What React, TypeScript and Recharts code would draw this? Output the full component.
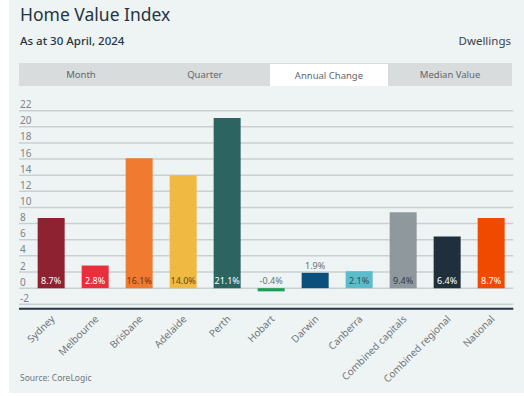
import React from "react";
import { BarChart, Bar, XAxis, YAxis, ReferenceLine, Cell, LabelList } from "recharts";

const categories = ["Sydney", "Melbourne", "Brisbane", "Adelaide", "Perth", "Hobart", "Darwin", "Canberra", "Combined capitals", "Combined regional", "National"];
const annualChange = [8.7, 2.8, 16.1, 14.0, 21.1, -0.4, 1.9, 2.1, 9.4, 6.4, 8.7];
const barColors = ["#8f2230", "#e8303d", "#ef7a30", "#f0b942", "#2b6460", "#1e9e57", "#0c4f7a", "#5bbccc", "#8f989d", "#1f2f3b", "#f04a00"];
const labelColors = ["#ffffff", "#ffffff", "#6b3515", "#5e4a1a", "#ffffff", "#6a7075", "#6a7075", "#2f4f58", "#2e3a40", "#ffffff", "#ffffff"];
const yTicks = [-2, 0, 2, 4, 6, 8, 10, 12, 14, 16, 18, 20, 22];
const tabs = ["Month", "Quarter", "Annual Change", "Median Value"];
const activeTab = "Annual Change";

const data = categories.map((name, i) => ({ name, value: annualChange[i] }));

const FONT = "'Noto Sans', sans-serif";
const MARGIN = { top: 110.7, left: 9, right: 10.7, bottom: 7.3 };
const DOMAIN: [number, number] = [-2.55, 22];

const YTick = (props: any) => {
  const { y, payload } = props;
  return (
    <text x={20} y={y - 2.5} fontSize={10} fill="#7d8388" fontFamily={FONT} textAnchor="start">
      {payload.value}
    </text>
  );
};

const XTick = (props: any) => {
  const { x, y, payload } = props;
  const tx = x + 4;
  const ty = y + 9;
  return (
    <text x={tx} y={ty} fontSize={10} fill="#6f767b" fontFamily={FONT} textAnchor="end" transform={`rotate(-45 ${tx} ${ty})`}>
      {payload.value}
    </text>
  );
};

const BarLabel = (props: any) => {
  const { x, y, width, height, value, index } = props;
  const top = Math.min(y, y + height);
  const bottom = Math.max(y, y + height);
  const h = bottom - top;
  const cx = x + width / 2;
  let ty: number;
  if (value < 0) {
    ty = top - 4;
  } else if (h >= 16) {
    ty = bottom - 4;
  } else {
    ty = top - 4;
  }
  return (
    <text x={cx} y={ty} fontSize={9} fill={labelColors[index]} fontFamily={FONT} textAnchor="middle">
      {`${value.toFixed(1)}%`}
    </text>
  );
};

export default function App() {
  return (
    <div style={{ position: "absolute", left: 0, top: 0, width: 524, height: 396, background: "#ffffff", fontFamily: FONT, overflow: "hidden" }}>
      <div style={{ position: "absolute", left: 9, top: 0, width: 515, height: 393, background: "#eef3f4" }} />
      <div style={{ position: "absolute", left: 20, top: 2, fontSize: 17.5, color: "#253541", lineHeight: "24px" }}>Home Value Index</div>
      <div style={{ position: "absolute", left: 20, top: 33, fontSize: 11.5, fontWeight: 500, color: "#253541", lineHeight: "16px" }}>As at 30 April, 2024</div>
      <div style={{ position: "absolute", right: 13, top: 33, fontSize: 11.5, color: "#3a4348", lineHeight: "16px" }}>Dwellings</div>
      <div style={{ position: "absolute", left: 19, top: 63, width: 493, height: 23, background: "#d9dcdd", display: "flex" }}>
        {tabs.map((t) => (
          <div
            key={t}
            style={{
              width: t === activeTab ? 119 : 124.6,
              marginLeft: t === activeTab ? 3 : 0,
              marginTop: t === activeTab ? 1 : 0,
              background: t === activeTab ? "#ffffff" : "transparent",
              fontSize: 9.5,
              color: "#5f666b",
              display: "flex",
              alignItems: "center",
              justifyContent: "center",
            }}
          >
            {t}
          </div>
        ))}
      </div>
      {/* back layer: gridlines */}
      <div style={{ position: "absolute", left: 0, top: 0 }}>
        <BarChart width={524} height={396} data={data} margin={MARGIN} barCategoryGap="19%">
          <XAxis dataKey="name" interval={0} height={80} padding={{ left: 10.3, right: 0 }} tick={false} tickLine={false} axisLine={false} />
          <YAxis width={10} domain={DOMAIN} ticks={yTicks} interval={0} axisLine={false} tickLine={false} tick={false} />
          {yTicks.map((v) => (
            <ReferenceLine key={v} y={v} stroke="#c9d0d2" strokeWidth={1.5} />
          ))}
          <Bar dataKey="value" isAnimationActive={false} fillOpacity={0} />
        </BarChart>
      </div>
      {/* front layer: bars, axes, labels */}
      <div style={{ position: "absolute", left: 0, top: 0 }}>
        <BarChart width={524} height={396} data={data} margin={MARGIN} barCategoryGap="19%">
          <XAxis
            dataKey="name"
            interval={0}
            height={80}
            padding={{ left: 10.3, right: 0 }}
            tickLine={false}
            tickSize={0}
            axisLine={{ stroke: "#253541", strokeWidth: 2 }}
            tick={<XTick />}
          />
          <YAxis width={10} domain={DOMAIN} ticks={yTicks} interval={0} axisLine={false} tickLine={false} tick={<YTick />} />
          <Bar dataKey="value" isAnimationActive={false}>
            {data.map((d, i) => (
              <Cell key={d.name} fill={barColors[i]} />
            ))}
            <LabelList dataKey="value" content={<BarLabel />} />
          </Bar>
        </BarChart>
      </div>
      <div style={{ position: "absolute", left: 20, top: 372, fontSize: 8.5, color: "#6f767b", lineHeight: "12px" }}>Source: CoreLogic</div>
    </div>
  );
}
